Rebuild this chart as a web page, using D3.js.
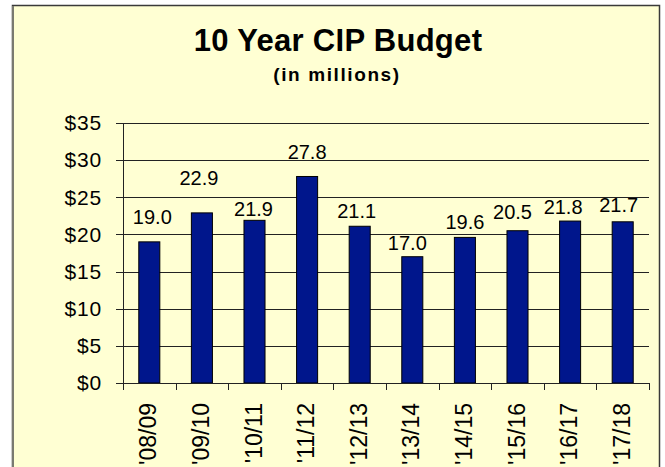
<!DOCTYPE html>
<html>
<head>
<meta charset="UTF-8">
<title>10 Year CIP Budget</title>
<script src="https://d3js.org/d3.v7.min.js"></script>
<style>
  body {
    margin: 0;
    padding: 0;
    background: #ffffff;
    font-family: Arial, "Liberation Sans", sans-serif;
  }
  .grid line { stroke: #222; stroke-width: 1px; }
  .bar { fill: #00168c; stroke: #000; stroke-width: 1px; }
</style>
</head>
<body>
<div id="chart"></div>
<script>
// Data
const years = ["'08/09", "'09/10", "'10/11", "'11/12", "'12/13", "'13/14", "'14/15", "'15/16", "'16/17", "'17/18"];
const budget = [19.0, 22.9, 21.9, 27.8, 21.1, 17.0, 19.6, 20.5, 21.8, 21.7];
const yTicks = [0, 5, 10, 15, 20, 25, 30, 35];

// label nudges (px) as placed in the original sheet
const labelLift = [18, 28, 4, 17, 8, 7, 8, 12, 7, 10];
const labelShift = [3, -3, -1, 0, -3, -5, 0, -5, -7, -4];

const width = 665, height = 467;
const margin = { top: 123, right: 16, bottom: 84, left: 123 };

const svg = d3.select("#chart").append("svg")
  .attr("width", width)
  .attr("height", height);

// frame
svg.append("rect")
  .attr("x", 12.5).attr("y", 5.5)
  .attr("width", 647).attr("height", 470)
  .attr("fill", "#ffffd3")
  .attr("stroke", "#3a3a3a")
  .attr("stroke-width", 1.5);
svg.append("line")
  .attr("x1", 13).attr("x2", 13).attr("y1", 6).attr("y2", height)
  .attr("stroke", "#7a7a70").attr("stroke-width", 2);

svg.append("text")
  .attr("x", 338).attr("y", 51)
  .attr("text-anchor", "middle")
  .style("font-size", "31px").style("font-weight", "bold")
  .style("letter-spacing", "0.3px")
  .text("10 Year CIP Budget");

svg.append("text")
  .attr("x", 337).attr("y", 81)
  .attr("text-anchor", "middle")
  .style("font-size", "19px").style("font-weight", "bold")
  .style("letter-spacing", "1.6px")
  .text("(in millions)");

const x = d3.scaleBand()
  .domain(years)
  .range([margin.left, width - margin.right])
  .paddingInner(0.6)
  .paddingOuter(0.3);

const y = d3.scaleLinear()
  .domain([0, 35])
  .range([height - margin.bottom, margin.top]);

// horizontal gridlines + left ticks
svg.append("g")
  .attr("class", "grid")
  .selectAll("line")
  .data(yTicks)
  .join("line")
  .attr("x1", margin.left - 7)
  .attr("x2", width - margin.right)
  .attr("y1", d => Math.round(y(d)) + 0.5)
  .attr("y2", d => Math.round(y(d)) + 0.5);

svg.append("g")
  .selectAll("text")
  .data(yTicks)
  .join("text")
  .attr("x", margin.left - 21)
  .attr("y", d => y(d))
  .attr("dy", "0.35em")
  .attr("text-anchor", "end")
  .style("font-size", "21px")
  .style("letter-spacing", "0.8px")
  .text(d => "$" + d);

// y axis line
svg.append("line")
  .attr("x1", margin.left + 0.5).attr("x2", margin.left + 0.5)
  .attr("y1", y(35)).attr("y2", y(0) + 6)
  .attr("stroke", "#222");

// category ticks at band boundaries
const step = x.step();
const boundaries = d3.range(years.length + 1).map(i => margin.left + i * step);
svg.append("g")
  .selectAll("line")
  .data(boundaries)
  .join("line")
  .attr("x1", d => Math.round(d) + 0.5)
  .attr("x2", d => Math.round(d) + 0.5)
  .attr("y1", y(0))
  .attr("y2", y(0) + 7)
  .attr("stroke", "#222");

// bars
svg.append("g")
  .selectAll("rect")
  .data(budget)
  .join("rect")
  .attr("class", "bar")
  .attr("x", (d, i) => x(years[i]))
  .attr("y", d => y(d))
  .attr("width", x.bandwidth())
  .attr("height", d => y(0) - y(d));

// value labels
svg.append("g")
  .selectAll("text")
  .data(budget)
  .join("text")
  .attr("x", (d, i) => x(years[i]) + x.bandwidth() / 2 + labelShift[i])
  .attr("y", (d, i) => y(d) - labelLift[i])
  .attr("text-anchor", "middle")
  .style("font-size", "20px")
  .text(d => d.toFixed(1));

// category labels, rotated
svg.append("g")
  .selectAll("text")
  .data(years)
  .join("text")
  .attr("transform", d => `translate(${x(d) + x.bandwidth() / 2 - 1},${y(0) + 20}) rotate(-90)`)
  .attr("dy", "0.35em")
  .attr("text-anchor", "end")
  .style("font-size", "23px")
  .text(d => d);

// x axis line
svg.append("line")
  .attr("x1", margin.left).attr("x2", width - margin.right)
  .attr("y1", Math.round(y(0)) + 0.5).attr("y2", Math.round(y(0)) + 0.5)
  .attr("stroke", "#222");
</script>
</body>
</html>
